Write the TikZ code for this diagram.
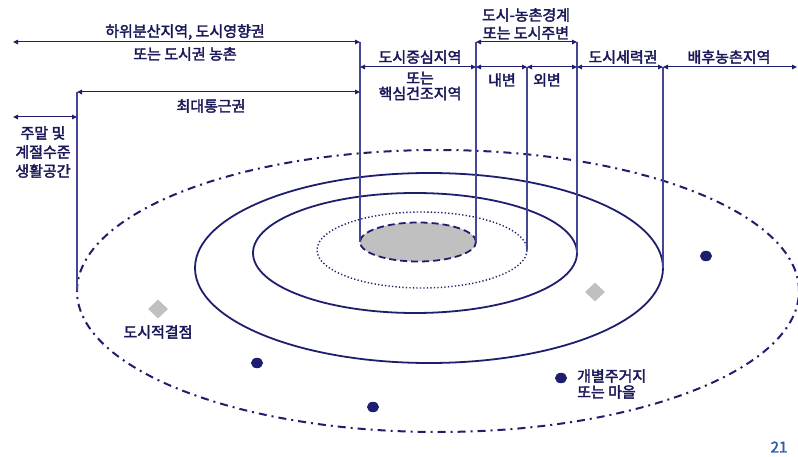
\documentclass[tikz,border=0pt]{standalone}
\usepackage{fontspec}
\setmainfont{Noto Sans CJK KR}
\newfontfamily\krb{Noto Sans CJK KR}[FakeBold=2.5]
\usetikzlibrary{arrows.meta,shapes.geometric}
\definecolor{navy}{RGB}{30,30,110}
\definecolor{vline}{RGB}{70,70,150}
\definecolor{txt}{RGB}{25,25,90}
\definecolor{diam}{RGB}{192,192,192}
\definecolor{pg}{RGB}{45,95,170}
\begin{document}
\begin{tikzpicture}[x=1pt,y=-1pt,
  lbl/.style={text=txt,font=\krb\fontsize{15}{16}\selectfont,align=center,inner sep=0pt},
  dimline/.style={draw=navy,line width=1pt,{Triangle[length=5pt,width=4.5pt]}-{Triangle[length=5pt,width=4.5pt]}},
  guide/.style={draw=vline,line width=1.3pt},
  ring/.style={ellipse,draw=navy,line width=1.8pt,inner sep=0pt,outer sep=0pt},
  town/.style={ellipse,fill=navy,minimum width=12pt,minimum height=10.5pt,inner sep=0pt},
  node1/.style={diamond,fill=diam,minimum width=20pt,minimum height=19pt,inner sep=0pt}
]
\fill[white] (0,0) rectangle (798,457);
\useasboundingbox (0,0) rectangle (798,457);

% rings
\node[ring,dash pattern=on 8pt off 5pt on 2pt off 5pt,line width=2pt,minimum width=722pt,minimum height=282pt] (far) at (438,291) {};
\node[ring,minimum width=468pt,minimum height=190pt] (outer) at (429,268) {};
\node[ring,minimum width=324pt,minimum height=120pt] (inner) at (415,253) {};
\node[ring,line width=1.4pt,dash pattern=on 1.3pt off 2.2pt,minimum width=210pt,minimum height=76pt] (mid) at (422,250) {};
\node[ring,fill=diam,dash pattern=on 7pt off 4pt,minimum width=116pt,minimum height=39pt] (core) at (418,242) {};

% guide tops
\coordinate (t360) at (360,42);
\coordinate (t476) at (476,42);
\coordinate (t577) at (577,42);
\coordinate (t527) at (527,67);
\coordinate (t663) at (663,67);
\coordinate (t77) at (77,92);
\coordinate (l42) at (13,42);
\coordinate (l117) at (13,117);
\coordinate (r67) at (797,67);
\coordinate (m360) at (360,67);
\coordinate (m476) at (476,67);
\coordinate (m577) at (577,67);
\coordinate (q360) at (360,92);
\coordinate (q77) at (77,117);

% guides
\draw[guide] (t360) -- (core.west);
\draw[guide] (t476) -- (core.east);
\draw[guide] (t527) -- (mid.east);
\draw[guide] (t577) -- (inner.east);
\draw[guide] (t663) -- (outer.east);
\draw[guide] (t77) -- (far.west);

% dimension arrows
\draw[dimline] (l42) -- (t360);
\draw[dimline] (t476) -- (t577);
\draw[dimline] (m360) -- (m476);
\draw[dimline] (m476) -- (t527);
\draw[dimline] (t527) -- (m577);
\draw[dimline] (m577) -- (t663);
\draw[dimline] (t663) -- (r67);
\draw[dimline] (t77) -- (q360);
\draw[dimline] (l117) -- (q77);

% labels
\node[lbl] (a1) at (185,32) {하위분산지역, 도시영향권};
\node[lbl] (a2) at (185,54) {또는 도시권 농촌};
\node[lbl,font=\krb\fontsize{15}{18}\selectfont] (b1) at (526,24) {도시-농촌경계\\또는 도시주변};
\node[lbl] (c1) at (420,57) {도시중심지역};
\node[lbl,font=\krb\fontsize{15}{15.5}\selectfont] (c2) at (420,86) {또는\\핵심건조지역};
\node[lbl] (d1) at (502,80) {내변};
\node[lbl] (d2) at (547,80) {외변};
\node[lbl] (e1) at (623,57) {도시세력권};
\node[lbl] (f1) at (729,57) {배후농촌지역};
\node[lbl] (g1) at (211,106) {최대통근권};
\node[lbl,font=\krb\fontsize{15}{19}\selectfont] (h1) at (43,152) {주말 및\\계절수준\\생활공간};

% markers
\node[node1] (k1) at (158,309) {};
\node[node1] (k2) at (595,292) {};
\node[lbl] (k1t) at (158,332) {도시적결점};
\node[town] (v1) at (706,256) {};
\node[town] (v2) at (257,363) {};
\node[town] (v3) at (373,407) {};
\node[town] (v4) at (561,378) {};
\node[lbl,align=left,anchor=west] (v4t) at (577,384) {개별주거지\\또는 마을};

\node[text=pg,font=\krb\fontsize{15}{15}\selectfont,inner sep=0pt] (pgn) at (779,447) {21};
\end{tikzpicture}
\end{document}
